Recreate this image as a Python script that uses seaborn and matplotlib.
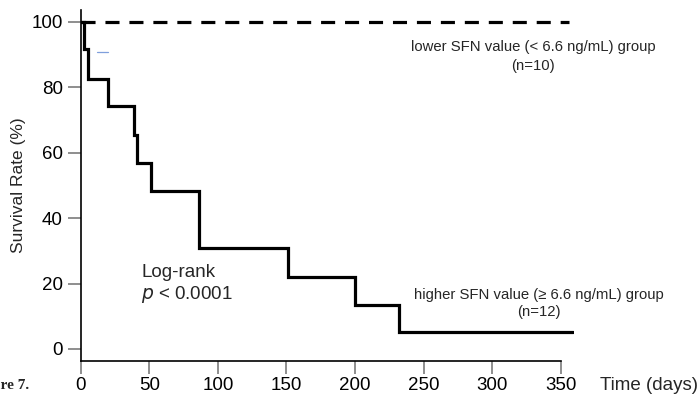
import matplotlib
matplotlib.use("Agg")
import matplotlib.pyplot as plt
import seaborn as sns
import pandas as pd

# higher SFN group (n=12), Kaplan-Meier steps
high_days = [0, 2, 5, 20, 39, 41, 51, 86, 151, 200, 232, 359]
high_surv = [100, 91.7, 82.6, 74.3, 65.4, 56.8, 48.3, 30.8, 22.0, 13.5, 5.2, 5.2]

# lower SFN group (n=10), no events
low_days = [0, 356]
low_surv = [100, 100]

# small blue stray mark near the top
mark_days = [12, 20]
mark_surv = [90.8, 90.8]

x_ticks = [0, 50, 100, 150, 200, 250, 300, 350]
y_ticks = [0, 20, 40, 60, 80, 100]

sns.set_style("ticks")
plt.rcParams['font.family'] = ['Liberation Sans', 'DejaVu Sans']

fig = plt.figure(figsize=(6.97, 3.96), dpi=100)
ax = fig.add_axes([0.116, 0.0884, 0.708, 0.8866])

df_high = pd.DataFrame({"days": high_days, "surv": high_surv})
df_low = pd.DataFrame({"days": low_days, "surv": low_surv})
df_mark = pd.DataFrame({"days": mark_days, "surv": mark_surv})

sns.lineplot(data=df_high, x="days", y="surv", ax=ax, color="black",
             linewidth=2.3, drawstyle="steps-post", solid_joinstyle="miter")
sns.lineplot(data=df_low, x="days", y="surv", ax=ax, color="black",
             linewidth=2.3, linestyle=(0, (4.4, 3.1)))
sns.lineplot(data=df_mark, x="days", y="surv", ax=ax, color="#7f9fdc",
             linewidth=0.9)

ax.set_xlim(0, 360)
ax.set_ylim(-3.7, 103.7)
ax.set_xticks(x_ticks)
ax.set_yticks(y_ticks)
ax.tick_params(axis="both", length=9.5, width=1.1, color="#707070",
               labelsize=13.5, labelcolor="black")
ax.tick_params(axis="x", pad=2)
ax.tick_params(axis="y", pad=3.5)

for s in ["top", "right"]:
    ax.spines[s].set_visible(False)
for s in ["left", "bottom"]:
    ax.spines[s].set_color("black")
    ax.spines[s].set_linewidth(1.2)
ax.spines["bottom"].set_bounds(0, 350)

ax.set_xlabel("")
ax.set_ylabel("Survival Rate (%)", fontsize=12.5, labelpad=4)

fig.text(600 / 697, 1 - 386 / 396, "Time (days)", fontsize=13.5,
         ha="left", va="center")
ax.text(44, 23.5, "Log-rank", fontsize=13.5, ha="left", va="center")
ax.text(44, 16.5, "$\\it{p}$ < 0.0001", fontsize=13.5, ha="left", va="center")

ax.text(330, 92.4, "lower SFN value (< 6.6 ng/mL) group", fontsize=10.7,
        ha="center", va="center")
ax.text(330, 86.6, "(n=10)", fontsize=10.7, ha="center", va="center")
ax.text(334, 16.5, "higher SFN value (\u2265 6.6 ng/mL) group", fontsize=10.7,
        ha="center", va="center")
ax.text(334, 11.2, "(n=12)", fontsize=10.7, ha="center", va="center")

fig.text(29 / 697, 1 - 386 / 396, "Figure 7.", fontsize=11, fontweight="bold",
         family=["Liberation Serif", "DejaVu Serif"], ha="right", va="center")

fig.savefig("out.png", dpi=100)
